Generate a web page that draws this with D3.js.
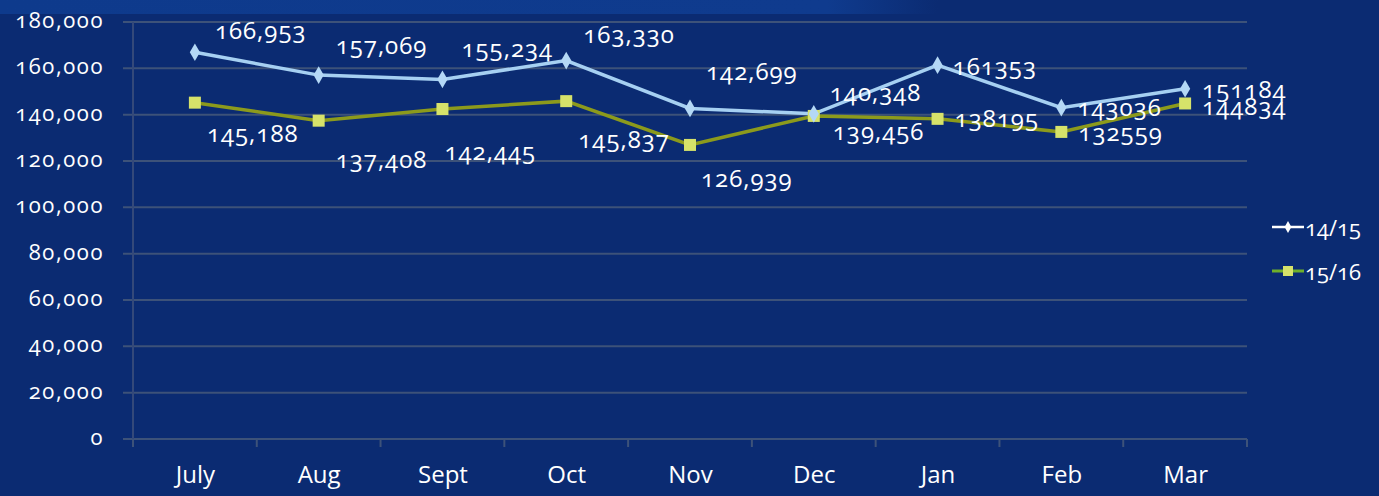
<!DOCTYPE html>
<html>
<head>
<meta charset="utf-8">
<script src="https://cdn.jsdelivr.net/npm/d3@7"></script>
<style>
  body { margin: 0; background: #0b2b72; }
  svg text { font-family: "Open Sans", "Lato", sans-serif; font-variant-numeric: oldstyle-nums; fill: #ffffff; }
  .grid line { stroke: #3d5279; stroke-width: 2; }
</style>
</head>
<body>
<svg id="chart"></svg>
<script>
// DATA
var months = ["July", "Aug", "Sept", "Oct", "Nov", "Dec", "Jan", "Feb", "Mar"];
var seriesNames = ["14/15", "15/16"];
var values1415 = [166953, 157069, 155234, 163330, 142699, 140348, 161353, 143036, 151184];
var values1516 = [145188, 137408, 142445, 145837, 126939, 139456, 138195, 132559, 144834];
var labels1415 = ["166,953", "157,069", "155,234", "163,330", "142,699", "140,348", "161353", "143036", "151184"];
var labels1516 = ["145,188", "137,408", "142,445", "145,837", "126,939", "139,456", "138195", "132559", "144834"];
var yTicks = [0, 20000, 40000, 60000, 80000, 100000, 120000, 140000, 160000, 180000];

// label nudges, as placed by hand in the original
var nudge1415 = [[20,-13],[17,-21],[19,-22],[17,-18],[16,-28],[16,-13],[15,10],[16,8],[17,9]];
var nudge1516 = [[12,39],[17,47],[2,51],[12,47],[11,42],[19,24],[17,8],[17,9],[17,12]];

var width = 1379, height = 496;
var svg = d3.select("#chart").attr("width", width).attr("height", height);

// background with lighter band on top
var defs = svg.append("defs");
var grad = defs.append("linearGradient").attr("id", "topband").attr("x1", 0).attr("x2", 1).attr("y1", 0).attr("y2", 0);
grad.append("stop").attr("offset", "0%").attr("stop-color", "#0e3a8c");
grad.append("stop").attr("offset", "60%").attr("stop-color", "#0f3b8e");
grad.append("stop").attr("offset", "68%").attr("stop-color", "#0b2b72");
svg.append("rect").attr("width", width).attr("height", height).attr("fill", "#0b2b72");
svg.append("rect").attr("width", width).attr("height", 14).attr("fill", "url(#topband)");

var x = d3.scalePoint().domain(months).range([133, 1247]).padding(0.5);
var y = d3.scaleLinear().domain([0, 180000]).range([439, 22]);
var step = x.step();

// GRIDLINES
svg.append("g").attr("class", "grid")
  .selectAll("line").data(yTicks).enter().append("line")
  .attr("x1", 123).attr("x2", 1247)
  .attr("y1", function(d) { return y(d); })
  .attr("y2", function(d) { return y(d); });

// vertical axis line
svg.append("line").attr("x1", 133).attr("x2", 133).attr("y1", y(180000)).attr("y2", y(0) + 8)
  .attr("stroke", "#34497a").attr("stroke-width", 2);

// Y AXIS LABELS
var yAxis = d3.axisLeft(y).tickValues(yTicks).tickFormat(d3.format(",d")).tickSize(0).tickPadding(0);
var yg = svg.append("g").attr("transform", "translate(104,0)").call(yAxis);
yg.select(".domain").remove();
yg.selectAll("text").style("font-size", "22px").style("letter-spacing", "1.6px").attr("dy", "0.25em");

// X AXIS
var boundaries = d3.range(months.length + 1).map(function(i) { return 133 + i * step; });
svg.append("g").selectAll("line").data(boundaries).enter().append("line")
  .attr("x1", function(d) { return d; }).attr("x2", function(d) { return d; })
  .attr("y1", y(0)).attr("y2", y(0) + 8)
  .attr("stroke", "#3d5279").attr("stroke-width", 2);

var xAxis = d3.axisBottom(x).tickSize(0).tickPadding(0);
var xg = svg.append("g").attr("transform", "translate(0,483)").call(xAxis);
xg.select(".domain").remove();
xg.selectAll("text").style("font-size", "24px").attr("dy", 0).attr("y", 0);

// LINES
var line = d3.line()
  .x(function(d, i) { return x(months[i]); })
  .y(function(d) { return y(d); });

svg.append("path").datum(values1516).attr("d", line)
  .attr("fill", "none").attr("stroke", "#8c9a1c").attr("stroke-width", 3.5);
svg.append("path").datum(values1415).attr("d", line)
  .attr("fill", "none").attr("stroke", "#a6d0f2").attr("stroke-width", 3.5);

// MARKERS
svg.append("g").selectAll("rect").data(values1516).enter().append("rect")
  .attr("x", function(d, i) { return x(months[i]) - 6; })
  .attr("y", function(d) { return y(d) - 6; })
  .attr("width", 12).attr("height", 12)
  .attr("fill", "#d6e26a");

svg.append("g").selectAll("path").data(values1415).enter().append("path")
  .attr("d", d3.symbol().type(d3.symbolDiamond).size(90))
  .attr("transform", function(d, i) { return "translate(" + x(months[i]) + "," + y(d) + ")"; })
  .attr("fill", "#b4d8f6");

// DATA LABELS
svg.append("g").selectAll("text").data(values1415).enter().append("text")
  .attr("x", function(d, i) { return x(months[i]) + nudge1415[i][0]; })
  .attr("y", function(d, i) { return y(d) + nudge1415[i][1]; })
  .style("font-size", "24px").style("letter-spacing", "1px")
  .text(function(d, i) { return labels1415[i]; });

svg.append("g").selectAll("text").data(values1516).enter().append("text")
  .attr("x", function(d, i) { return x(months[i]) + nudge1516[i][0]; })
  .attr("y", function(d, i) { return y(d) + nudge1516[i][1]; })
  .style("font-size", "24px").style("letter-spacing", "1px")
  .text(function(d, i) { return labels1516[i]; });

// LEGEND
var legend = svg.append("g").attr("transform", "translate(1272,227)");
legend.append("line").attr("x1", 0).attr("x2", 32).attr("y1", 0).attr("y2", 0)
  .attr("stroke", "#ffffff").attr("stroke-width", 2.5);
legend.append("path").attr("d", d3.symbol().type(d3.symbolDiamond).size(40))
  .attr("transform", "translate(16,0)").attr("fill", "#ffffff");
legend.append("text").attr("x", 33).attr("y", 9).style("font-size", "22px").text(seriesNames[0]);

var legend2 = svg.append("g").attr("transform", "translate(1272,271)");
legend2.append("line").attr("x1", 0).attr("x2", 32).attr("y1", 0).attr("y2", 0)
  .attr("stroke", "#6fb02a").attr("stroke-width", 3);
legend2.append("rect").attr("x", 11).attr("y", -5).attr("width", 10).attr("height", 10).attr("fill", "#d6e26a");
legend2.append("text").attr("x", 33).attr("y", 9).style("font-size", "22px").text(seriesNames[1]);
</script>
</body>
</html>
